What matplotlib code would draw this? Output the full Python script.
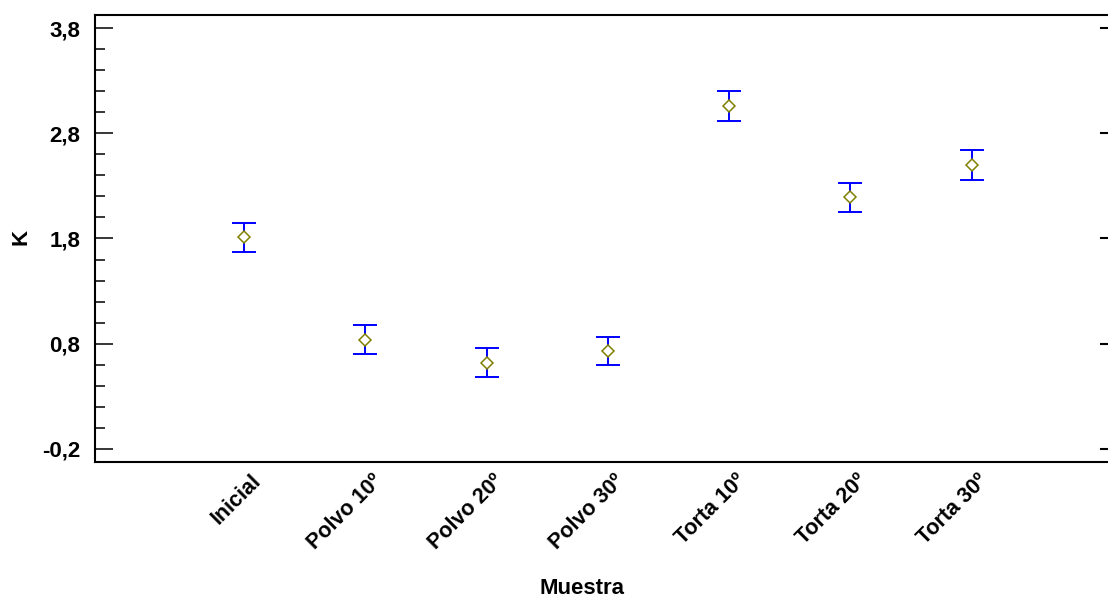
import numpy as np
import matplotlib.pyplot as plt
import matplotlib.transforms as mtransforms
from matplotlib.ticker import MultipleLocator

plt.rcParams['font.family'] = ['Liberation Sans', 'DejaVu Sans']

# datos
muestras = ['Inicial', 'Polvo 10º', 'Polvo 20º', 'Polvo 30º', 'Torta 10º', 'Torta 20º', 'Torta 30º']
medias = [1.81, 0.84, 0.62, 0.73, 3.06, 2.19, 2.50]
errores = [0.135, 0.14, 0.135, 0.135, 0.14, 0.14, 0.14]
yticks = [-0.2, 0.8, 1.8, 2.8, 3.8]
ytick_labels = ['-0,2', '0,8', '1,8', '2,8', '3,8']

fig = plt.figure(figsize=(11.08, 5.97), dpi=100)
ax = fig.add_axes([95/1108, 1-462/597, 1-95/1108 - 0.5/1108, (462-15)/597])

x = np.arange(len(muestras))
ax.errorbar(x, medias, yerr=errores, fmt='none', ecolor='#0000ff', elinewidth=1.4,
            capsize=8.6, capthick=1.4)
ax.plot(x, medias, 'D', ms=6, mfc='white', mec='#808000', mew=1.1)

ax.set_xlim(-1.23, 7.12)
ax.set_ylim(-0.324, 3.924)
ax.yaxis.set_minor_locator(MultipleLocator(0.2))
ax.set_yticks(yticks)
ax.set_yticklabels(ytick_labels, fontsize=16, fontweight='bold')
ax.tick_params(axis='y', which='major', direction='in', length=13, width=1.1, left=True, right=False, pad=10.5)
ax.tick_params(axis='y', which='minor', direction='in', length=7.2, width=1.1, left=True, right=False)

# ticks cortos a la derecha
for v in yticks:
    ax.plot([1 - 7/1013, 1], [v, v], transform=ax.get_yaxis_transform(), color='black', lw=1.5, clip_on=False)

ax.set_xticks(x)
ax.set_xticklabels(muestras, rotation=45, ha='right', va='top', rotation_mode='anchor',
                   fontsize=15.5, fontweight='bold')
ax.tick_params(axis='x', length=0, pad=6)
offset = mtransforms.ScaledTranslation(6/100, 0, fig.dpi_scale_trans)
for lab in ax.get_xticklabels():
    lab.set_transform(lab.get_transform() + offset)

for s in ax.spines.values():
    s.set_linewidth(1.5)
ax.spines['right'].set_visible(False)

ax.set_xlabel('Muestra', fontsize=16, fontweight='bold')
ax.xaxis.set_label_coords(0.481, -0.2595)
ax.set_ylabel('K', fontsize=16, fontweight='bold')
ax.yaxis.set_label_coords(-0.063, 0.503)

fig.savefig('out.png', dpi=100)
